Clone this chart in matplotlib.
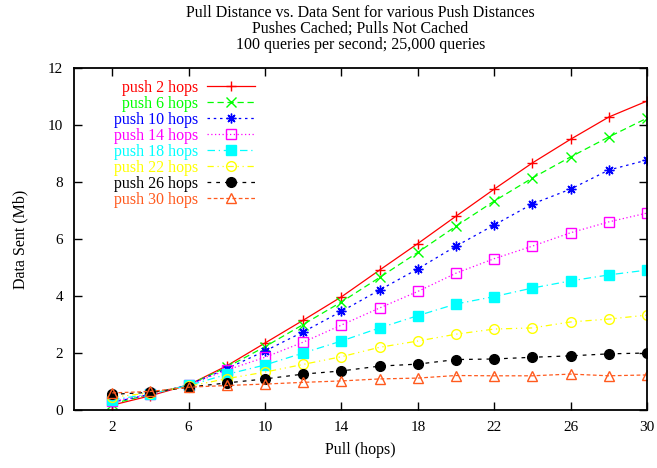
import matplotlib
matplotlib.use("Agg")
import matplotlib.pyplot as plt

plt.rcParams['font.family'] = ['Liberation Serif', 'DejaVu Serif']

pull_hops = [2, 4, 6, 8, 10, 12, 14, 16, 18, 20, 22, 24, 26, 28, 30]

push_2 = [0.17, 0.50, 0.88, 1.55, 2.35, 3.15, 3.97, 4.91, 5.84, 6.80, 7.75, 8.67, 9.50, 10.28, 10.84]
push_6 = [0.22, 0.55, 0.88, 1.50, 2.22, 3.00, 3.79, 4.65, 5.53, 6.45, 7.33, 8.14, 8.88, 9.58, 10.24]
push_10 = [0.27, 0.55, 0.88, 1.45, 2.07, 2.74, 3.46, 4.21, 4.95, 5.75, 6.49, 7.23, 7.75, 8.42, 8.77]
push_14 = [0.30, 0.55, 0.88, 1.40, 1.85, 2.38, 2.98, 3.58, 4.16, 4.80, 5.31, 5.75, 6.22, 6.60, 6.91]
push_18 = [0.35, 0.57, 0.86, 1.25, 1.58, 2.00, 2.42, 2.88, 3.31, 3.72, 3.98, 4.28, 4.53, 4.74, 4.91]
push_22 = [0.45, 0.60, 0.83, 1.10, 1.33, 1.60, 1.87, 2.20, 2.42, 2.66, 2.84, 2.88, 3.09, 3.19, 3.33]
push_26 = [0.55, 0.62, 0.80, 0.95, 1.09, 1.26, 1.37, 1.54, 1.61, 1.77, 1.79, 1.85, 1.90, 1.97, 2.00]
push_30 = [0.60, 0.65, 0.80, 0.86, 0.91, 0.97, 1.02, 1.09, 1.12, 1.21, 1.20, 1.20, 1.26, 1.20, 1.23]

series = [
    ("push 2 hops", push_2),
    ("push 6 hops", push_6),
    ("push 10 hops", push_10),
    ("push 14 hops", push_14),
    ("push 18 hops", push_18),
    ("push 22 hops", push_22),
    ("push 26 hops", push_26),
    ("push 30 hops", push_30),
]

# gnuplot-like line styles: color, linestyle, marker, filled
styles = [
    ('#ff0000', '-', '+', False),
    ('#00ff00', (0, (5, 3)), 'x', False),
    ('#0000ff', (0, (2, 3)), (8, 2, 0), False),
    ('#ff00ff', (0, (1, 2)), 's', False),
    ('#00ffff', (0, (6, 3, 1, 3)), 's', True),
    ('#ffff00', (0, (5, 3, 1, 3, 1, 3)), 'o', False),
    ('#000000', (0, (3, 4)), 'o', True),
    ('#ff5a1e', (0, (3, 2)), '^', False),
]

fig = plt.figure(figsize=(6.57, 4.68), dpi=100)
ax = fig.add_axes([74 / 657, 58 / 468, 573 / 657, 342 / 468])

for (label, values), (color, ls, marker, filled) in zip(series, styles):
    ax.plot(pull_hops, values, color=color, linestyle=ls, linewidth=0.9,
            marker=marker, markersize=7, markeredgewidth=1.0,
            markerfacecolor=color if filled else 'none',
            markeredgecolor=color, label=label)

ax.set_xlim(0, 30)
ax.set_ylim(0, 12)
ax.set_xticks(range(2, 31, 4))
ax.set_yticks(range(0, 13, 2))
ax.tick_params(direction='in', length=6, width=1, top=True, right=True,
               labelsize=11, pad=8)
for sp in ax.spines.values():
    sp.set_linewidth(1.3)

ax.set_xlabel("Pull (hops)", fontsize=11.5, labelpad=6)
ax.set_ylabel("Data Sent (Mb)", fontsize=11.5, labelpad=14)
ax.set_title("Pull Distance vs. Data Sent for various Push Distances\n"
             "Pushes Cached; Pulls Not Cached\n"
             "100 queries per second; 25,000 queries",
             fontsize=11.5, linespacing=0.97, pad=14)

leg = ax.legend(loc='upper right', bbox_to_anchor=((255 - 74) / 573, 0.965),
                markerfirst=False, frameon=False, fontsize=11.5,
                handlelength=3.0, handletextpad=0.55, labelspacing=0.0,
                borderaxespad=0, borderpad=0, labelcolor='linecolor')

fig.savefig("out.png", dpi=100)
